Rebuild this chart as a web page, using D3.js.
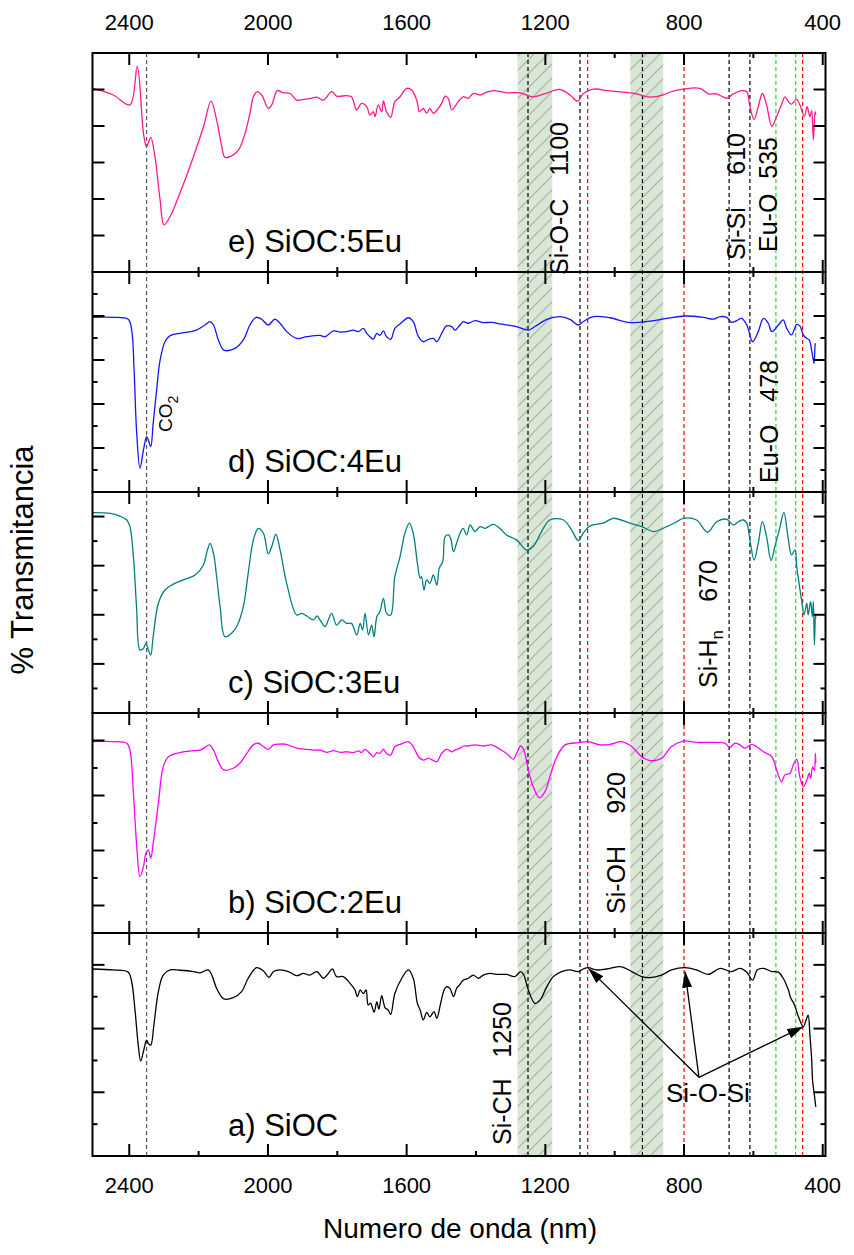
<!DOCTYPE html>
<html>
<head>
<meta charset="utf-8">
<script src="https://cdn.jsdelivr.net/npm/d3@7"></script>
<style>
  body { margin: 0; background: #fff; }
  svg { display: block; }
  text { font-family: "Liberation Sans", Arial, sans-serif; fill: #000; }
</style>
</head>
<body>
<svg id="chart" width="854" height="1255"></svg>
<script>
// FTIR spectra, [wavenumber, transmittance (a.u.)]
const sioc5Eu = [
  [2505,5.03],[2446,4.85],[2398,4.58],[2377,5.63],[2359,3.80],[2350,3.43],[2338,3.69],[2326,3.16],
  [2311,1.97],[2300,1.29],[2282,1.52],[2254,2.16],[2215,3.16],[2186,3.98],[2164,4.68],[2148,4.16],
  [2133,3.43],[2124,3.14],[2100,3.21],[2085,3.34],[2066,3.80],[2052,4.35],[2042,4.80],[2031,4.94],
  [2018,4.85],[1999,4.48],[1989,4.58],[1973,4.97],[1956,4.91],[1936,4.89],[1917,4.71],[1898,4.73],
  [1879,4.75],[1859,4.79],[1840,4.71],[1816,4.94],[1802,4.82],[1773,4.83],[1759,4.80],[1744,4.44],
  [1730,4.62],[1715,4.53],[1706,4.30],[1696,4.39],[1691,4.26],[1682,4.58],[1672,4.39],[1667,4.69],
  [1658,4.39],[1646,4.24],[1634,4.67],[1619,4.80],[1600,5.03],[1586,4.99],[1571,4.71],[1563,4.39],
  [1552,4.48],[1542,4.35],[1533,4.48],[1523,4.35],[1509,4.48],[1499,4.62],[1489,4.82],[1480,4.76],
  [1470,4.44],[1461,4.53],[1451,4.67],[1437,4.80],[1422,4.76],[1408,4.89],[1388,4.85],[1374,4.91],
  [1350,4.97],[1312,4.91],[1273,4.91],[1235,4.80],[1206,4.87],[1158,5.00],[1129,4.85],[1107,4.68],
  [1090,4.89],[1062,5.01],[1014,4.96],[966,4.92],[937,4.88],[898,4.79],[860,4.85],[836,4.94],
  [802,5.01],[754,5.03],[730,4.88],[706,4.88],[677,4.76],[658,4.88],[634,4.97],[619,4.94],
  [610,4.53],[598,4.18],[586,4.53],[574,4.89],[562,4.58],[547,4.00],[533,4.26],[519,4.58],
  [509,4.80],[499,4.67],[490,4.60],[475,4.73],[466,4.58],[453,4.27],[445,4.53],[437,4.26],
  [432,4.42],[427,3.62],[422,4.39],[420,4.30]
];

const sioc4Eu = [
  [2505,7.94],[2446,7.94],[2403,7.85],[2393,7.36],[2386,5.55],[2379,2.82],[2369,1.08],[2359,1.91],
  [2350,2.52],[2345,2.36],[2338,2.06],[2331,3.12],[2321,4.64],[2311,6.00],[2297,6.83],[2282,7.11],
  [2254,7.21],[2206,7.36],[2182,7.59],[2167,7.74],[2157,7.59],[2143,6.91],[2127,6.45],[2095,6.53],
  [2071,6.91],[2052,7.59],[2034,7.94],[2018,7.85],[1999,7.59],[1980,7.86],[1965,7.67],[1946,7.29],
  [1917,6.98],[1888,7.06],[1850,7.12],[1836,7.06],[1811,7.32],[1792,7.27],[1773,7.29],[1754,7.36],
  [1739,7.29],[1725,7.44],[1715,7.21],[1706,7.06],[1696,6.95],[1686,7.21],[1677,7.12],[1667,7.32],
  [1658,7.06],[1646,6.94],[1634,7.44],[1619,7.64],[1595,7.92],[1581,7.74],[1566,7.06],[1552,6.83],
  [1537,6.94],[1523,6.98],[1513,6.83],[1499,7.21],[1485,7.55],[1470,7.52],[1461,7.36],[1446,7.59],
  [1437,7.74],[1422,7.67],[1403,7.79],[1379,7.70],[1355,7.71],[1331,7.64],[1283,7.52],[1249,7.36],
  [1230,7.52],[1196,7.85],[1158,7.97],[1129,7.85],[1105,7.59],[1091,7.74],[1062,7.97],[1014,7.92],
  [956,7.70],[898,7.77],[850,7.89],[797,8.00],[744,7.94],[716,7.86],[696,7.97],[677,7.94],
  [663,7.71],[648,7.79],[634,7.89],[619,7.59],[602,6.83],[586,7.29],[571,7.89],[557,7.67],
  [547,7.29],[528,7.59],[514,7.82],[504,7.44],[490,7.14],[475,7.62],[466,7.55],[456,7.14],
  [446,6.98],[439,6.91],[432,6.45],[427,6.00],[425,5.85],[422,6.68],[421,6.76]
];

const sioc3Eu = [
  [2505,8.16],[2455,8.13],[2427,8.02],[2407,7.86],[2398,7.59],[2388,6.37],[2379,4.33],[2369,2.57],
  [2359,2.63],[2352,2.84],[2345,2.57],[2338,2.36],[2331,3.11],[2316,4.47],[2297,5.01],[2278,5.21],
  [2244,5.42],[2210,5.62],[2186,6.03],[2177,6.50],[2167,6.91],[2157,6.50],[2148,5.55],[2138,4.33],
  [2124,3.11],[2105,3.25],[2090,3.52],[2071,4.33],[2057,5.69],[2042,7.05],[2028,7.52],[2013,7.32],
  [1999,6.48],[1989,6.78],[1977,7.28],[1965,6.64],[1946,5.28],[1917,3.99],[1903,4.06],[1888,3.95],
  [1869,3.79],[1858,3.95],[1850,3.79],[1835,3.52],[1826,3.79],[1816,4.06],[1802,3.58],[1787,3.79],
  [1773,3.65],[1759,3.65],[1744,3.18],[1734,3.65],[1727,3.38],[1720,4.06],[1710,3.18],[1701,3.58],
  [1694,3.11],[1686,3.92],[1677,4.13],[1667,4.67],[1658,4.06],[1646,3.99],[1634,5.55],[1619,6.37],
  [1605,7.32],[1592,7.73],[1581,7.32],[1569,6.10],[1561,5.49],[1557,5.55],[1550,5.01],[1542,5.42],
  [1533,5.28],[1523,5.62],[1513,5.21],[1506,5.89],[1496,6.16],[1489,7.18],[1480,7.25],[1473,7.11],
  [1465,6.57],[1456,6.91],[1446,7.32],[1437,7.52],[1427,7.25],[1417,7.66],[1403,7.39],[1388,7.59],
  [1374,7.52],[1364,7.59],[1350,7.68],[1331,7.52],[1312,7.25],[1283,7.05],[1254,6.64],[1235,6.78],
  [1211,7.39],[1187,7.86],[1148,7.86],[1124,7.45],[1105,7.02],[1091,7.32],[1071,7.62],[1033,7.73],
  [1004,7.93],[956,7.73],[922,7.59],[889,7.39],[850,7.59],[821,7.79],[802,7.93],[764,7.86],
  [732,7.36],[706,7.79],[677,7.89],[658,7.66],[643,7.79],[629,7.86],[619,7.73],[610,7.05],
  [598,6.23],[586,6.91],[574,7.79],[562,7.18],[549,6.21],[538,6.78],[523,7.59],[512,8.16],
  [499,7.05],[490,6.44],[480,6.64],[475,5.96],[461,4.60],[454,3.99],[446,4.47],[442,3.99],
  [435,4.53],[430,3.92],[427,4.53],[424,2.77],[421,3.99],[420,3.86]
];

const sioc2Eu = [
  [2505,6.96],[2446,6.96],[2407,6.90],[2398,6.65],[2388,5.08],[2379,3.26],[2369,2.05],[2359,2.41],
  [2352,2.90],[2345,3.02],[2338,2.72],[2331,3.26],[2316,4.72],[2302,6.05],[2287,6.41],[2254,6.56],
  [2215,6.63],[2196,6.65],[2182,6.75],[2169,6.84],[2157,6.65],[2143,6.23],[2127,5.93],[2100,5.99],
  [2081,6.17],[2061,6.53],[2042,6.84],[2028,6.90],[2013,6.78],[1999,6.68],[1984,6.84],[1965,6.87],
  [1946,6.86],[1917,6.72],[1888,6.68],[1869,6.65],[1850,6.65],[1831,6.57],[1811,6.63],[1792,6.57],
  [1773,6.59],[1754,6.56],[1739,6.62],[1730,6.56],[1720,6.68],[1706,6.53],[1696,6.41],[1686,6.56],
  [1677,6.53],[1667,6.68],[1658,6.53],[1646,6.47],[1634,6.78],[1619,6.86],[1595,6.96],[1581,6.78],
  [1566,6.41],[1552,6.29],[1537,6.35],[1523,6.27],[1513,6.23],[1499,6.53],[1485,6.68],[1470,6.59],
  [1461,6.65],[1446,6.72],[1437,6.80],[1422,6.80],[1403,6.84],[1379,6.80],[1355,6.84],[1331,6.68],
  [1312,6.53],[1292,6.32],[1283,6.53],[1271,6.80],[1262,6.65],[1249,5.93],[1235,5.32],[1217,4.92],
  [1201,5.14],[1187,5.68],[1167,6.41],[1143,6.84],[1105,6.92],[1076,6.96],[1042,6.84],[1014,6.86],
  [980,6.96],[951,6.78],[922,6.41],[898,6.27],[865,6.35],[836,6.78],[802,6.98],[764,6.93],
  [716,6.93],[682,6.90],[668,6.75],[653,6.90],[639,6.84],[624,6.72],[605,6.86],[591,6.78],
  [571,6.59],[547,6.41],[533,5.93],[519,5.50],[509,5.75],[494,5.81],[485,6.11],[475,6.32],
  [466,5.68],[456,5.32],[446,5.56],[439,5.81],[435,5.62],[429,6.05],[424,5.90],[421,6.53],[420,6.17]
];

const sioc = [
  [2505,5.87],[2446,5.84],[2403,5.77],[2393,5.47],[2383,4.53],[2374,3.48],[2367,2.98],[2357,3.38],
  [2350,3.64],[2345,3.53],[2338,3.48],[2329,4.11],[2316,5.16],[2302,5.68],[2282,5.84],[2254,5.83],
  [2215,5.79],[2196,5.75],[2172,5.84],[2162,5.68],[2148,5.26],[2127,4.93],[2100,4.97],[2076,5.16],
  [2057,5.58],[2033,5.91],[2013,5.81],[1997,5.61],[1984,5.79],[1965,5.84],[1941,5.79],[1917,5.66],
  [1898,5.73],[1879,5.68],[1859,5.79],[1840,5.58],[1826,5.73],[1814,5.87],[1802,5.63],[1783,5.63],
  [1763,5.42],[1749,5.21],[1742,5.00],[1734,5.21],[1725,5.10],[1717,5.21],[1711,4.74],[1704,4.80],
  [1694,4.51],[1686,4.84],[1680,4.61],[1672,5.03],[1662,4.65],[1653,4.58],[1646,4.44],[1634,5.10],
  [1614,5.58],[1595,5.84],[1581,5.58],[1569,4.79],[1561,4.58],[1552,4.27],[1542,4.51],[1533,4.37],
  [1521,4.53],[1513,4.32],[1502,4.79],[1492,5.21],[1485,5.31],[1475,5.26],[1465,5.00],[1456,5.26],
  [1446,5.39],[1437,5.52],[1422,5.58],[1408,5.68],[1393,5.58],[1379,5.68],[1360,5.73],[1340,5.70],
  [1312,5.70],[1288,5.63],[1271,5.79],[1262,5.68],[1249,5.21],[1230,4.79],[1215,4.90],[1196,5.31],
  [1177,5.63],[1153,5.79],[1129,5.84],[1105,5.79],[1091,5.87],[1076,5.91],[1052,5.84],[1023,5.87],
  [980,5.94],[951,5.79],[922,5.63],[898,5.60],[865,5.68],[836,5.84],[797,5.91],[764,5.84],
  [730,5.70],[696,5.89],[663,5.79],[639,5.89],[619,5.77],[602,5.52],[589,5.84],[571,5.89],
  [547,5.79],[528,5.77],[514,5.58],[499,5.21],[492,4.95],[483,4.79],[470,4.37],[456,4.06],
  [448,4.27],[442,4.42],[437,3.79],[432,3.06],[429,2.33],[424,1.91],[420,1.54]
];

// Axis ticks (cm-1)
const xMajorTicks = [2400, 2000, 1600, 1200, 800, 400];
const xMinorTicks = [2200, 1800, 1400, 1000, 600];

// Shaded absorption bands [from, to]
const bands = [[1280, 1180], [955, 860]];

// Vertical reference lines: [wavenumber, colour kind]
const refLines = [
  [2350, "co2"], [1250, "black"], [1100, "black"], [1078, "red"], [920, "black"],
  [800, "red"], [670, "black"], [610, "black"], [535, "green"], [478, "green"], [458, "red"]
];

const panelDefs = [
  { label: "e) SiOC:5Eu", data: sioc5Eu, color: "#ff1a8c", yMax: 6,  top: 53,  bottom: 272,  major: k => true },
  { label: "d) SiOC:4Eu", data: sioc4Eu, color: "#1414ff", yMax: 10, top: 272, bottom: 492,  major: k => k % 2 === 0 },
  { label: "c) SiOC:3Eu", data: sioc3Eu, color: "#008080", yMax: 9,  top: 492, bottom: 713,  major: k => k % 2 === 0 },
  { label: "b) SiOC:2Eu", data: sioc2Eu, color: "#ff00ff", yMax: 8,  top: 713, bottom: 933,  major: k => k % 2 === 1 },
  { label: "a) SiOC",     data: sioc,    color: "#000000", yMax: 7,  top: 933, bottom: 1156, major: k => k % 2 === 0 }
];

const svg = d3.select("#chart");
const left = 92.5, right = 825.5;
const plotTop = panelDefs[0].top, plotBottom = panelDefs[panelDefs.length - 1].bottom;
const x = d3.scaleLinear().domain([2506, 392]).range([left, right]);

panelDefs.forEach(p => {
  p.y = d3.scaleLinear().domain([0, p.yMax]).range([p.bottom, p.top]);
});

// hatch pattern for the bands
const defs = svg.append("defs");
const pat = defs.append("pattern").attr("id", "hatch")
  .attr("patternUnits", "userSpaceOnUse").attr("width", 14).attr("height", 14);
pat.append("rect").attr("width", 14).attr("height", 14).attr("fill", "#d9e8d5");
pat.append("path").attr("d", "M-2,16 L16,-2 M-2,2 L2,-2 M12,16 L16,12")
  .attr("stroke", "#b3b3b3").attr("stroke-width", 1.3);

defs.append("marker").attr("id", "arrowhead")
  .attr("viewBox", "0 0 10 10").attr("refX", 10).attr("refY", 5)
  .attr("markerUnits", "userSpaceOnUse").attr("markerWidth", 16).attr("markerHeight", 10)
  .attr("preserveAspectRatio", "none").attr("orient", "auto")
  .append("path").attr("d", "M0,0 L10,5 L0,10 Z").attr("fill", "#000");

// bands
svg.append("g").selectAll("rect").data(bands).join("rect")
  .attr("x", d => x(d[0])).attr("width", d => x(d[1]) - x(d[0]))
  .attr("y", plotTop).attr("height", plotBottom - plotTop)
  .attr("fill", "url(#hatch)");

// reference lines
const lineColor = { co2: "#555", black: "#000", red: "#ff0000", green: "#22dd22" };
svg.append("g").selectAll("line").data(refLines).join("line")
  .attr("x1", d => x(d[0])).attr("x2", d => x(d[0]))
  .attr("y1", plotTop).attr("y2", plotBottom)
  .attr("stroke", d => lineColor[d[1]])
  .attr("stroke-width", 1.2)
  .attr("stroke-dasharray", "4,3");

// spectra
panelDefs.forEach(p => {
  const line = d3.line().x(d => x(d[0])).y(d => p.y(d[1])).curve(d3.curveCatmullRom.alpha(0.5));
  svg.append("path").datum(p.data)
    .attr("d", line).attr("fill", "none")
    .attr("stroke", p.color).attr("stroke-width", 1.3).attr("stroke-linejoin", "round");
});

// frames and ticks
panelDefs.forEach(p => {
  const g = svg.append("g");
  const allX = xMajorTicks.map(v => [v, 12]).concat(xMinorTicks.map(v => [v, 5]));
  g.selectAll("line.xt").data(allX).join("line")
    .attr("x1", d => x(d[0])).attr("x2", d => x(d[0]))
    .attr("y1", p.top).attr("y2", d => p.top + d[1])
    .attr("stroke", "#000").attr("stroke-width", 2);
  g.selectAll("line.xb").data(allX).join("line")
    .attr("x1", d => x(d[0])).attr("x2", d => x(d[0]))
    .attr("y1", p.bottom).attr("y2", d => p.bottom - d[1])
    .attr("stroke", "#000").attr("stroke-width", 2);
  const yt = d3.range(1, p.yMax).map(k => [k, p.major(k) ? 12 : 5]);
  g.selectAll("line.yl").data(yt).join("line")
    .attr("x1", left).attr("x2", d => left + d[1])
    .attr("y1", d => p.y(d[0])).attr("y2", d => p.y(d[0]))
    .attr("stroke", "#000").attr("stroke-width", 2);
  g.selectAll("line.yr").data(yt).join("line")
    .attr("x1", right).attr("x2", d => right - d[1])
    .attr("y1", d => p.y(d[0])).attr("y2", d => p.y(d[0]))
    .attr("stroke", "#000").attr("stroke-width", 2);
  g.append("rect").attr("x", left).attr("y", p.top)
    .attr("width", right - left).attr("height", p.bottom - p.top)
    .attr("fill", "none").attr("stroke", "#000").attr("stroke-width", 2);
  g.append("text").attr("x", 228).attr("y", p.bottom - 20)
    .attr("font-size", 31).text(p.label);
});

// tick labels top and bottom
svg.append("g").selectAll("text").data(xMajorTicks).join("text")
  .attr("x", d => x(d)).attr("y", 30).attr("text-anchor", "middle")
  .attr("font-size", 22).text(d => d);
svg.append("g").selectAll("text").data(xMajorTicks).join("text")
  .attr("x", d => x(d)).attr("y", 1193).attr("text-anchor", "middle")
  .attr("font-size", 22).text(d => d);

// axis titles
svg.append("text").attr("x", 460).attr("y", 1238).attr("text-anchor", "middle")
  .attr("font-size", 28).text("Numero de onda (nm)");
svg.append("text").attr("transform", "translate(33,560) rotate(-90)")
  .attr("text-anchor", "middle").attr("font-size", 31).text("% Transmitancia");

// band assignments, rotated
const bandNotes = [
  { name: "Si-O-C", num: "1100", wn: 1100, dx: -12, y0: 275,  y1: 122 },
  { name: "Si-Si",  num: "610",  wn: 610,  dx: -5,  y0: 260,  y1: 133 },
  { name: "Eu-O",   num: "535",  wn: 535,  dx: 1,   y0: 252,  y1: 137 },
  { name: "Eu-O",   num: "478",  wn: 478,  dx: -18, y0: 483,  y1: 360 },
  { name: "Si-H",   sub: "n", num: "670", wn: 670, dx: -12, y0: 688, y1: 560 },
  { name: "Si-OH",  num: "920",  wn: 920,  dx: -17, y0: 914,  y1: 772 },
  { name: "Si-CH",  num: "1250", wn: 1250, dx: -17, y0: 1145, y1: 1002 }
];
bandNotes.forEach(n => {
  const bx = x(n.wn) + n.dx;
  const t = svg.append("text").attr("transform", `translate(${bx},${n.y0}) rotate(-90)`)
    .attr("font-size", 25);
  t.append("tspan").text(n.name);
  if (n.sub) t.append("tspan").attr("font-size", 17).attr("dy", 6).text(n.sub);
  svg.append("text").attr("transform", `translate(${bx},${n.y1}) rotate(-90)`)
    .attr("text-anchor", "end").attr("font-size", 25).text(n.num);
});

// CO2 label
const co2 = svg.append("text").attr("transform", `translate(${x(2350) + 25},432) rotate(-90)`)
  .attr("font-size", 19);
co2.append("tspan").text("CO");
co2.append("tspan").attr("font-size", 14).attr("dy", 6).text("2");

// Si-O-Si arrows (panel a coordinates)
const pa = panelDefs[4];
const arrowFrom = [757, 2.47];
const arrowTo = [[1076, 5.89], [797, 5.79], [456, 4.06]];
svg.append("g").selectAll("line").data(arrowTo).join("line")
  .attr("x1", x(arrowFrom[0])).attr("y1", pa.y(arrowFrom[1]))
  .attr("x2", d => x(d[0])).attr("y2", d => pa.y(d[1]))
  .attr("stroke", "#000").attr("stroke-width", 1.3)
  .attr("marker-end", "url(#arrowhead)");
svg.append("text").attr("x", 666).attr("y", 1102).attr("font-size", 26).text("Si-O-Si");
</script>
</body>
</html>
